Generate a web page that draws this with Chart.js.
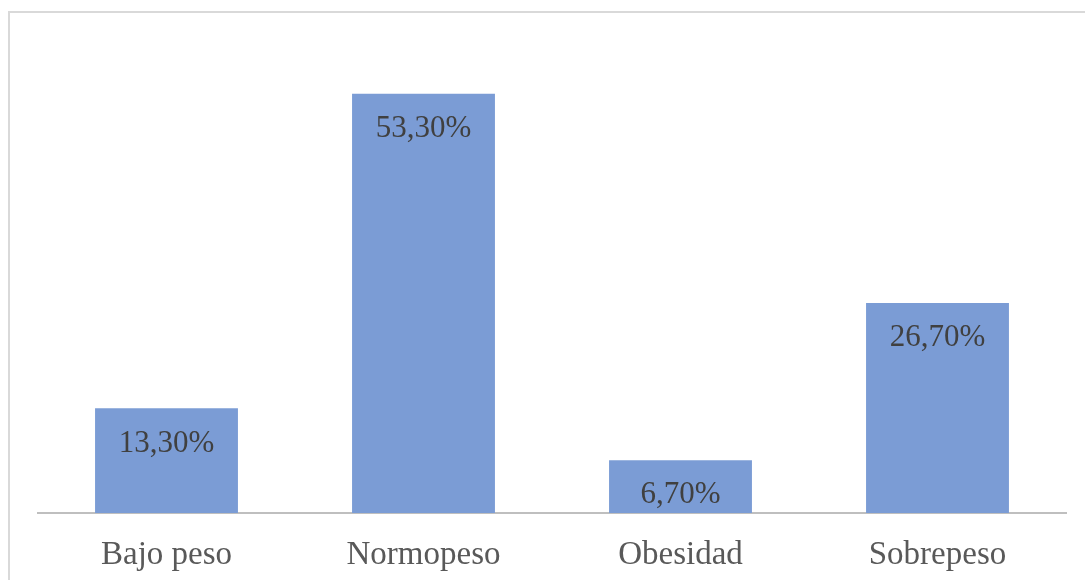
<!DOCTYPE html>
<html>
<head>
<meta charset="utf-8">
<script src="https://cdn.jsdelivr.net/npm/chart.js"></script>
<style>
  body { margin: 0; background: #fff; }
  #frame { position: absolute; left: 8px; top: 11px; width: 1100px; height: 600px;
           border-left: 2px solid #D9D9D9; border-top: 2px solid #D9D9D9; }
  #chart { position: absolute; left: 0; top: 0; }
</style>
</head>
<body>
<div id="frame"></div>
<canvas id="chart" width="1085" height="580"></canvas>
<script>
// Categorías y porcentajes
const categories = ['Bajo peso', 'Normopeso', 'Obesidad', 'Sobrepeso'];
const percentages = [13.3, 53.3, 6.7, 26.7];

const barColor = '#7B9CD5';
const serif = "'Liberation Serif', 'Times New Roman', serif";

// Etiquetas de datos dentro de la barra, arriba
const valueLabels = {
    id: 'valueLabels',
    afterDatasetsDraw(chart) {
        const ctx = chart.ctx;
        const meta = chart.getDatasetMeta(0);
        ctx.save();
        ctx.font = '31px ' + serif;
        ctx.fillStyle = '#404040';
        ctx.textAlign = 'center';
        ctx.textBaseline = 'middle';
        meta.data.forEach((bar, i) => {
            const txt = percentages[i].toFixed(2).replace('.', ',') + '%';
            ctx.fillText(txt, bar.x, bar.y + 35);
        });
        ctx.restore();
    }
};

new Chart(document.getElementById('chart').getContext('2d'), {
    type: 'bar',
    data: {
        labels: categories,
        datasets: [{
            data: percentages,
            backgroundColor: barColor,
            borderWidth: 0,
            barPercentage: 0.556,
            categoryPercentage: 1.0
        }]
    },
    options: {
        responsive: false,
        animation: false,
        layout: { padding: { left: 38, right: 19, top: 41, bottom: 9 } },
        plugins: {
            legend: { display: false },
            tooltip: { enabled: false }
        },
        scales: {
            x: {
                grid: { display: false },
                border: { color: '#BFBFBF', width: 2 },
                afterFit(axis) { axis.height = 58; },
                ticks: {
                    color: '#595959',
                    padding: 15,
                    font: { family: serif, size: 33 }
                }
            },
            y: {
                display: false,
                min: 0,
                max: 60
            }
        }
    },
    plugins: [valueLabels]
});
</script>
</body>
</html>
